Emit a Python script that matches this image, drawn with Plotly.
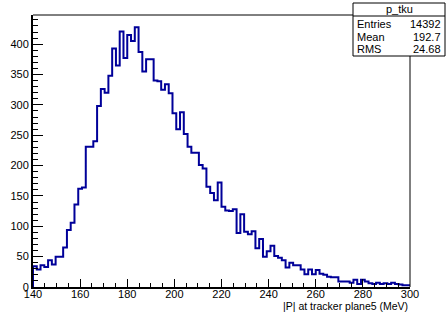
import plotly.graph_objects as go

# Histogram p_tku: 100 bins from 140 to 300 (bin width 1.6)
x_min, x_max, n_bins = 140.0, 300.0, 100
counts = [
    34, 29, 36, 33, 44, 37, 50, 50, 65, 94,
    106, 136, 162, 164, 231, 231, 240, 298, 326, 320,
    348, 393, 365, 421, 377, 415, 405, 428, 387, 355,
    375, 375, 340, 339, 325, 334, 319, 286, 260, 288,
    252, 231, 221, 221, 201, 195, 165, 155, 143, 172,
    132, 126, 125, 128, 89, 120, 91, 87, 92, 64,
    79, 50, 59, 68, 51, 48, 44, 32, 40, 36,
    36, 29, 21, 29, 21, 28, 22, 20, 17, 16,
    16, 9, 9, 9, 7, 12, 5, 12, 9, 6,
    5, 7, 5, 6, 5, 7, 5, 4, 3, 3,
]
stats_title = "p_tku"
stats_names = ["Entries", "Mean", "RMS"]
stats_values = ["14392", "192.7", "24.68"]
x_title = "|P| at tracker plane5 (MeV)"

bw = (x_max - x_min) / n_bins
edges = [x_min + i * bw for i in range(n_bins + 1)]
xs = [edges[0]] + edges
ys = [0] + counts + [counts[-1]]

fig = go.Figure()
fig.add_trace(go.Scatter(
    x=xs, y=ys, mode="lines", line_shape="hv",
    line=dict(color="#000099", width=2), hoverinfo="skip", showlegend=False,
))

W, H = 446, 313
L, R, T, B = 33, 36, 15, 26
pw, ph = W - L - R, H - T - B

def px2x(px):
    return (px - L) / pw

def py2y(py):
    return (H - B - py) / ph

font = dict(family="Liberation Sans, Arial, sans-serif", size=11, color="#000000")

fig.update_layout(
    width=W, height=H,
    margin=dict(l=L, r=R, t=T, b=B, pad=0, autoexpand=False),
    paper_bgcolor="white", plot_bgcolor="white",
    font=font,
    xaxis=dict(
        range=[x_min, x_max], showgrid=False, zeroline=False, automargin=False,
        showline=True, linecolor="black", linewidth=2,
        ticks="inside", ticklen=8, tickwidth=1, tickcolor="black",
        dtick=20, tick0=140, ticklabelstandoff=-4,
        minor=dict(ticks="inside", ticklen=4, dtick=5, tick0=140, tickcolor="black", showgrid=False),
        tickfont=dict(size=11),
    ),
    yaxis=dict(
        range=[0, 448], showgrid=False, zeroline=False, automargin=False,
        showline=True, linecolor="black", linewidth=2,
        ticks="inside", ticklen=10, tickwidth=1, tickcolor="black",
        dtick=50, tick0=0,
        minor=dict(ticks="inside", ticklen=5, dtick=10, tick0=0, tickcolor="black", showgrid=False),
        tickfont=dict(size=11),
    ),
)

# frame top and right
fig.add_shape(type="line", xref="paper", yref="paper", x0=0, x1=1, y0=1, y1=1,
              line=dict(color="black", width=1))
fig.add_shape(type="line", xref="paper", yref="paper", x0=1, x1=1, y0=0, y1=1,
              line=dict(color="black", width=1))

# stats box
bx0, bx1, by0, by1, bdiv = 353, 445, 3, 56, 16
fig.add_shape(type="rect", xref="paper", yref="paper",
              x0=px2x(bx0), x1=px2x(bx1), y0=py2y(by1), y1=py2y(by0),
              line=dict(color="black", width=1), fillcolor="white", layer="above")
fig.add_shape(type="line", xref="paper", yref="paper",
              x0=px2x(bx0), x1=px2x(bx1), y0=py2y(bdiv), y1=py2y(bdiv),
              line=dict(color="black", width=1), layer="above")
fig.add_annotation(text=stats_title, xref="paper", yref="paper",
                   x=px2x((bx0 + bx1) / 2), y=py2y(9.5), xanchor="center", yanchor="middle",
                   showarrow=False, font=font)
rows_py = [24, 37, 49]
for name, val, py in zip(stats_names, stats_values, rows_py):
    fig.add_annotation(text=name, xref="paper", yref="paper",
                       x=px2x(bx0 + 2), y=py2y(py), xanchor="left", yanchor="middle",
                       showarrow=False, font=font)
    fig.add_annotation(text=val, xref="paper", yref="paper",
                       x=px2x(bx1 - 2), y=py2y(py), xanchor="right", yanchor="middle",
                       showarrow=False, font=font)

# x axis title at right end
fig.add_annotation(text=x_title, xref="paper", yref="paper",
                   x=1, y=py2y(305.5), xanchor="right", yanchor="middle",
                   showarrow=False, font=dict(family=font["family"], size=10.5, color="black"))

fig.write_html("out.html", config={"displayModeBar": False},
               post_script="document.body.style.margin='0';document.body.style.overflow='hidden';")
